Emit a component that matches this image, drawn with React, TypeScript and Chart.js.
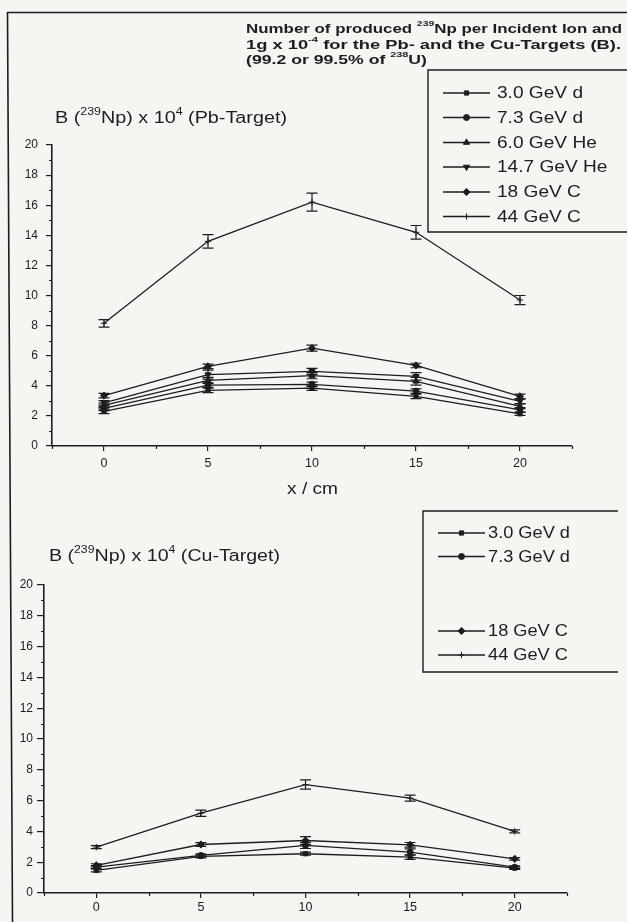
import React, { useEffect, useRef } from 'react';
import { Chart, registerables } from 'chart.js';
import { drawPoint } from 'chart.js/helpers';

Chart.register(...registerables);

// ---------------- data ----------------
const positions = [0, 5, 10, 15, 20];
const xTickValues = [0, 5, 10, 15, 20];
const yTickLabels = ['0', '2', '4', '6', '8', '10', '12', '14', '16', '18', '20'];

const seriesNames = ['3.0 GeV d', '7.3 GeV d', '6.0 GeV He', '14.7 GeV He', '18 GeV C', '44 GeV C'];

// Pb-Target
const pb_3_0_d = [2.3, 3.7, 3.85, 3.3, 2.14];
const pb_7_3_d = [2.5, 4.05, 4.1, 3.65, 2.4];
const pb_6_0_He = [2.7, 4.36, 4.67, 4.3, 2.64];
const pb_14_7_He = [2.86, 4.74, 4.96, 4.63, 2.97];
const pb_18_C = [3.35, 5.29, 6.5, 5.35, 3.3];
const pb_44_C = [8.15, 13.6, 16.2, 14.2, 9.7];

const pbErr_3_0_d = [0.15, 0.15, 0.15, 0.15, 0.1];
const pbErr_7_3_d = [0.15, 0.15, 0.15, 0.15, 0.15];
const pbErr_6_0_He = [0.15, 0.2, 0.2, 0.25, 0.15];
const pbErr_14_7_He = [0.15, 0.3, 0.2, 0.25, 0.15];
const pbErr_18_C = [0.15, 0.15, 0.2, 0.15, 0.15];
const pbErr_44_C = [0.25, 0.45, 0.6, 0.45, 0.3];

// Cu-Target
const cu_3_0_d = [1.47, 2.38, 2.55, 2.33, 1.62];
const cu_7_3_d = [1.68, 2.44, 3.09, 2.66, 1.68];
const cu_18_C = [1.8, 3.15, 3.41, 3.13, 2.22];
const cu_44_C = [2.98, 5.18, 7.04, 6.16, 4.0];

const cuErr_3_0_d = [0.1, 0.1, 0.1, 0.15, 0.08];
const cuErr_7_3_d = [0.1, 0.1, 0.2, 0.2, 0.08];
const cuErr_18_C = [0.1, 0.12, 0.25, 0.15, 0.08];
const cuErr_44_C = [0.1, 0.2, 0.3, 0.2, 0.1];

// ---------------- styling ----------------
const INK = '#1d1d1f';
const FONT = '"Liberation Sans", Arial, sans-serif';

type Seg = { t: string; sup?: boolean };

const styles: Record<string, { pointStyle: string; rotation: number; radius: number }> = {
  '3.0 GeV d': { pointStyle: 'rect', rotation: 0, radius: 3 },
  '7.3 GeV d': { pointStyle: 'circle', rotation: 0, radius: 3 },
  '6.0 GeV He': { pointStyle: 'triangle', rotation: 0, radius: 3.6 },
  '14.7 GeV He': { pointStyle: 'triangle', rotation: 180, radius: 3.6 },
  '18 GeV C': { pointStyle: 'rectRot', rotation: 0, radius: 3.6 },
  '44 GeV C': { pointStyle: 'cross', rotation: 0, radius: 3.2 },
};

function drawRich(ctx: CanvasRenderingContext2D, segs: Seg[], x: number, y: number, size: number, weight: string, targetW: number) {
  const fN = `${weight} ${size}px ${FONT}`;
  const fS = `${weight} ${Math.round(size * 0.62)}px ${FONT}`;
  let w = 0;
  for (const s of segs) {
    ctx.font = s.sup ? fS : fN;
    w += ctx.measureText(s.t).width;
  }
  const sx = targetW / w;
  ctx.save();
  ctx.translate(x, y);
  ctx.scale(sx, 1);
  ctx.textBaseline = 'middle';
  ctx.textAlign = 'left';
  ctx.fillStyle = INK;
  let cx = 0;
  for (const s of segs) {
    ctx.font = s.sup ? fS : fN;
    ctx.fillText(s.t, cx, s.sup ? -size * 0.4 : 0);
    cx += ctx.measureText(s.t).width;
  }
  ctx.restore();
}

type TextItem = { segs: Seg[]; x: number; y: number; size: number; weight: string; w: number };
type LegendSpec = {
  box: { left: number; top: number; right: number; bottom: number };
  lineX0: number; lineX1: number; textX: number; ys: number[]; textW: number;
};
type Geo = {
  padLeft: number; yWidth: number; padRight: number; padTop: number; xHeight: number; padBottom: number;
  yTickPad: number; xTickPad: number; yTickLen: number;
};

function makeChart(
  canvas: HTMLCanvasElement,
  names: string[],
  values: number[][],
  errors: number[][],
  geo: Geo,
  legend: LegendSpec,
  texts: TextItem[],
) {
  const datasets = names.map((n, i) => ({
    label: n,
    data: positions.map((x, j) => ({ x, y: values[i][j] })),
    borderColor: INK,
    backgroundColor: INK,
    borderWidth: 1.3,
    tension: 0,
    pointStyle: styles[n].pointStyle as any,
    rotation: styles[n].rotation,
    pointRadius: styles[n].radius,
    pointBackgroundColor: INK,
    pointBorderColor: INK,
    pointBorderWidth: 1,
    errors: errors[i],
  }));

  const errorBars = {
    id: 'errorBars',
    afterDatasetsDraw(chart: any) {
      const ctx = chart.ctx as CanvasRenderingContext2D;
      const xs = chart.scales.x;
      const ys = chart.scales.y;
      ctx.save();
      ctx.strokeStyle = INK;
      ctx.lineWidth = 1.2;
      chart.data.datasets.forEach((ds: any) => {
        ds.data.forEach((p: any, j: number) => {
          const e = ds.errors[j];
          const px = xs.getPixelForValue(p.x);
          const y0 = ys.getPixelForValue(p.y - e);
          const y1 = ys.getPixelForValue(p.y + e);
          const hw = 5.5;
          ctx.beginPath();
          ctx.moveTo(px, y0); ctx.lineTo(px, y1);
          ctx.moveTo(px - hw, y0); ctx.lineTo(px + hw, y0);
          ctx.moveTo(px - hw, y1); ctx.lineTo(px + hw, y1);
          ctx.stroke();
        });
      });
      ctx.restore();
    },
  };

  const minorTicks = {
    id: 'minorTicks',
    afterDraw(chart: any) {
      const ctx = chart.ctx as CanvasRenderingContext2D;
      const xs = chart.scales.x;
      const ys = chart.scales.y;
      const area = chart.chartArea;
      ctx.save();
      ctx.strokeStyle = INK;
      ctx.lineWidth = 1.2;
      ctx.beginPath();
      for (let v = -2.5; v <= 22.5 + 1e-6; v += 5) {
        const px = Math.round(xs.getPixelForValue(v)) + 0.5;
        ctx.moveTo(px, area.bottom); ctx.lineTo(px, area.bottom + 3);
      }
      for (let v = 1; v < 20; v += 2) {
        const py = Math.round(ys.getPixelForValue(v)) + 0.5;
        ctx.moveTo(area.left, py); ctx.lineTo(area.left - 3, py);
      }
      ctx.stroke();
      ctx.restore();
    },
  };

  const overlay = {
    id: 'overlay',
    afterDraw(chart: any) {
      const ctx = chart.ctx as CanvasRenderingContext2D;
      ctx.save();
      texts.forEach((t) => drawRich(ctx, t.segs, t.x, t.y, t.size, t.weight, t.w));
      const b = legend.box;
      ctx.strokeStyle = INK;
      ctx.lineWidth = 1.4;
      ctx.beginPath();
      ctx.moveTo(b.right, b.top); ctx.lineTo(b.left, b.top); ctx.lineTo(b.left, b.bottom); ctx.lineTo(b.right, b.bottom);
      ctx.stroke();
      ctx.font = `16px ${FONT}`;
      const sx = legend.textW / ctx.measureText('3.0 GeV d').width;
      chart.data.datasets.forEach((ds: any, i: number) => {
        const y = legend.ys[i];
        ctx.strokeStyle = INK;
        ctx.lineWidth = 1.3;
        ctx.beginPath();
        ctx.moveTo(legend.lineX0, y); ctx.lineTo(legend.lineX1, y);
        ctx.stroke();
        ctx.fillStyle = INK;
        ctx.lineWidth = 1;
        const st = styles[ds.label];
        drawPoint(ctx, { pointStyle: st.pointStyle as any, rotation: st.rotation, radius: st.radius, borderWidth: 1 } as any, (legend.lineX0 + legend.lineX1) / 2, y);
        ctx.save();
        ctx.translate(legend.textX, y);
        ctx.scale(sx, 1);
        ctx.font = `16px ${FONT}`;
        ctx.textBaseline = 'middle';
        ctx.textAlign = 'left';
        ctx.fillStyle = INK;
        ctx.fillText(ds.label, 0, 1);
        ctx.restore();
      });
      ctx.restore();
    },
  };

  return new Chart(canvas, {
    type: 'line',
    data: { datasets: datasets as any },
    plugins: [errorBars, minorTicks, overlay],
    options: {
      animation: false,
      responsive: false,
      devicePixelRatio: 1,
      layout: { padding: { left: geo.padLeft, right: geo.padRight, top: geo.padTop, bottom: geo.padBottom } },
      plugins: { legend: { display: false }, tooltip: { enabled: false }, title: { display: false } },
      scales: {
        x: {
          type: 'linear',
          min: -2.5,
          max: 22.5,
          afterFit: (s: any) => { s.height = geo.xHeight; },
          afterBuildTicks: (s: any) => { s.ticks = xTickValues.map((v) => ({ value: v })); },
          border: { display: true, color: INK, width: 1.6 },
          grid: { drawOnChartArea: false, drawTicks: true, tickLength: 5, color: INK, lineWidth: 1.2 },
          ticks: {
            padding: geo.xTickPad,
            color: INK,
            font: { family: FONT, size: 12.5 },
            maxRotation: 0,
            autoSkip: false,
            callback: (v: any) => String(v),
          },
        },
        y: {
          type: 'linear',
          min: 0,
          max: 20,
          afterFit: (s: any) => { s.width = geo.yWidth; },
          border: { display: true, color: INK, width: 1.6 },
          grid: { drawOnChartArea: false, drawTicks: true, tickLength: geo.yTickLen, color: INK, lineWidth: 1.2 },
          ticks: {
            stepSize: 2,
            padding: geo.yTickPad,
            color: INK,
            font: { family: FONT, size: 12 },
            callback: (v: any) => yTickLabels[Math.round(Number(v) / 2)] ?? '',
          },
        },
      },
    } as any,
  });
}

export default function App() {
  const topRef = useRef<HTMLCanvasElement>(null);
  const botRef = useRef<HTMLCanvasElement>(null);

  useEffect(() => {
    const top = makeChart(
      topRef.current!,
      seriesNames,
      [pb_3_0_d, pb_7_3_d, pb_6_0_He, pb_14_7_He, pb_18_C, pb_44_C],
      [pbErr_3_0_d, pbErr_7_3_d, pbErr_6_0_He, pbErr_14_7_He, pbErr_18_C, pbErr_44_C],
      { padLeft: 0, yWidth: 52, padRight: 55, padTop: 145, xHeight: 30, padBottom: 24, yTickPad: 8, xTickPad: 5, yTickLen: 6 },
      {
        box: { left: 428, top: 70, right: 640, bottom: 232 },
        lineX0: 443, lineX1: 490, textX: 497, textW: 86,
        ys: [93, 117.5, 142.5, 167, 192, 216.5],
      },
      [
        { segs: [{ t: 'Number of produced ' }, { t: '239', sup: true }, { t: 'Np per Incident Ion and' }], x: 246, y: 29, size: 13, weight: 'bold', w: 376 },
        { segs: [{ t: '1g x 10' }, { t: '-4', sup: true }, { t: ' for the Pb- and the Cu-Targets (B).' }], x: 246, y: 45, size: 13, weight: 'bold', w: 375 },
        { segs: [{ t: '(99.2 or 99.5% of ' }, { t: '238', sup: true }, { t: 'U)' }], x: 246, y: 60, size: 13, weight: 'bold', w: 181 },
        { segs: [{ t: 'B (' }, { t: '239', sup: true }, { t: 'Np) x 10' }, { t: '4', sup: true }, { t: ' (Pb-Target)' }], x: 55, y: 119, size: 16, weight: 'normal', w: 232 },
        { segs: [{ t: 'x / cm' }], x: 287, y: 490, size: 16, weight: 'normal', w: 51 },
      ],
    );
    const bot = makeChart(
      botRef.current!,
      ['3.0 GeV d', '7.3 GeV d', '18 GeV C', '44 GeV C'],
      [cu_3_0_d, cu_7_3_d, cu_18_C, cu_44_C],
      [cuErr_3_0_d, cuErr_7_3_d, cuErr_18_C, cuErr_44_C],
      { padLeft: 0, yWidth: 44, padRight: 60, padTop: 85, xHeight: 22, padBottom: 7, yTickPad: 4, xTickPad: 2, yTickLen: 7 },
      {
        box: { left: 423, top: 11, right: 618, bottom: 172 },
        lineX0: 438, lineX1: 485, textX: 488, textW: 82,
        ys: [33, 56.5, 131, 155],
      },
      [
        { segs: [{ t: 'B (' }, { t: '239', sup: true }, { t: 'Np) x 10' }, { t: '4', sup: true }, { t: ' (Cu-Target)' }], x: 49, y: 57, size: 16, weight: 'normal', w: 231 },
      ],
    );
    return () => { top.destroy(); bot.destroy(); };
  }, []);

  return (
    <div style={{ position: 'absolute', left: 0, top: 0, width: 627, height: 922, background: '#f5f5f2', overflow: 'hidden' }}>
      <svg width={627} height={922} style={{ position: 'absolute', left: 0, top: 0 }}>
        <line x1={7} y1={12.5} x2={627} y2={12.5} stroke={INK} strokeWidth={1.6} />
        <line x1={7.5} y1={12} x2={12.5} y2={922} stroke={INK} strokeWidth={1.6} />
      </svg>
      <canvas ref={topRef} width={627} height={500} style={{ position: 'absolute', left: 0, top: 0, width: 627, height: 500 }} />
      <canvas ref={botRef} width={627} height={422} style={{ position: 'absolute', left: 0, top: 500, width: 627, height: 422 }} />
    </div>
  );
}
